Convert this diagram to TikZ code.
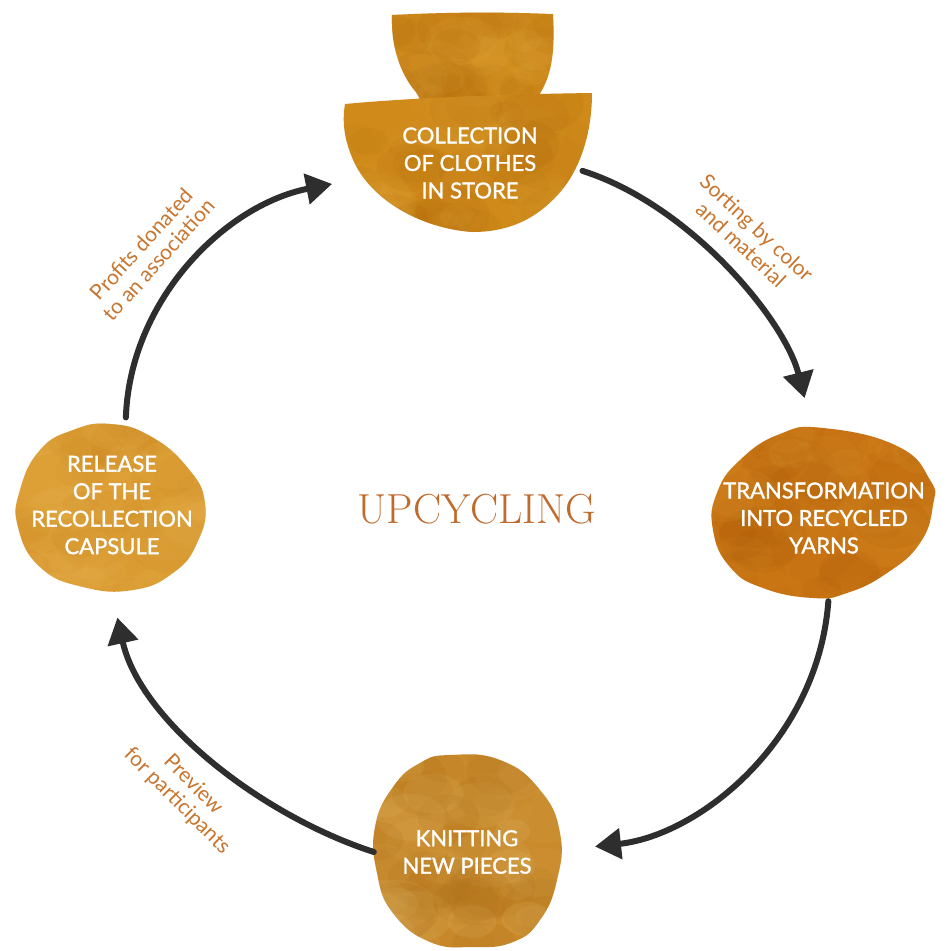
\documentclass[tikz,border=0pt]{standalone}
\usepackage{fontspec}
\setmainfont{Lato}
\newfontfamily\nodefont[FakeBold=1.3]{Lato}
\usetikzlibrary{arrows.meta,shapes.geometric}
\definecolor{arrowc}{HTML}{2E2E2E}
\definecolor{labelc}{HTML}{C8752E}
\definecolor{titlec}{HTML}{C06A2C}
\definecolor{topbase}{HTML}{CF8A1A}
\definecolor{topdark}{HTML}{B0680C}
\definecolor{toplight}{HTML}{E2AA40}
\definecolor{rbase}{HTML}{CA7514}
\definecolor{rdark}{HTML}{A8580A}
\definecolor{rlight}{HTML}{DA9A30}
\definecolor{lbase}{HTML}{DC9E34}
\definecolor{ldark}{HTML}{C8841E}
\definecolor{llight}{HTML}{EAB658}
\definecolor{bbase}{HTML}{C98A2C}
\definecolor{bdark}{HTML}{A66814}
\definecolor{blight}{HTML}{EBC77A}
\newcommand\blobspots[6]{%
  \foreach \i in {1,...,30}{%
    \pgfmathsetmacro\px{#1+rnd*(#2-#1)}%
    \pgfmathsetmacro\py{#3+rnd*(#4-#3)}%
    \pgfmathsetmacro\rr{15+rnd*30}%
    \pgfmathsetmacro\op{0.05+rnd*0.10}%
    \fill[#5,opacity=\op] (\px,\py) ellipse ({\rr} and {\rr*0.7});
    \pgfmathsetmacro\qx{#1+rnd*(#2-#1)}%
    \pgfmathsetmacro\qy{#3+rnd*(#4-#3)}%
    \pgfmathsetmacro\rs{10+rnd*25}%
    \pgfmathsetmacro\oq{0.05+rnd*0.10}%
    \fill[#6,opacity=\oq] (\qx,\qy) ellipse ({\rs*1.2} and {\rs*0.8});
  }}
\tikzset{
  stagenode/.style={ellipse, draw=none, text=white, align=center,
    font=\nodefont\fontsize{22}{27.5}\selectfont, inner sep=0pt},
  conn/.style={draw=arrowc, line width=6pt, line cap=round,
    -{Triangle[length=26pt,width=30pt]}},
  steplabel/.style={text=labelc, align=center,
    font=\fontsize{21}{23}\selectfont, inner sep=0pt},
}
\begin{document}
\begin{tikzpicture}[x=1pt,y=-1pt]
\useasboundingbox (0,0) rectangle (948,951);
\fill[white] (0,0) rectangle (948,951);
\pgfmathsetseed{7}
% top shape: cup + bowl
\begin{scope}
\clip (392,15) .. controls (450,12) and (500,12) .. (553,14)
  .. controls (555,50) and (552,72) .. (542,90)
  .. controls (536,100) and (534,106) .. (532,112)
  -- (425,112)
  .. controls (422,104) and (420,98) .. (416,92)
  .. controls (399,72) and (391,45) .. cycle;
\fill[topbase] (380,5) rectangle (565,115);
\blobspots{390}{555}{12}{110}{topdark}{toplight}
\end{scope}
\begin{scope}
\clip (345,104) .. controls (420,97) and (520,94) .. (592,93)
  .. controls (592,130) and (582,165) .. (562,190)
  .. controls (535,222) and (505,232) .. (472,232)
  .. controls (420,228) and (372,200) .. (354,162)
  .. controls (344,140) and (342,122) .. cycle;
\fill[topbase] (335,85) rectangle (600,240);
\blobspots{340}{595}{92}{234}{topdark}{toplight}
\end{scope}
% right blob
\begin{scope}
\clip plot[smooth cycle, tension=0.8] coordinates {(823,428) (897,446) (930,480) (933,505)
  (920,543) (887,573) (847,593) (813,598) (763,588) (730,567) (713,530) (717,493) (740,460) (780,434)};
\fill[rbase] (700,420) rectangle (940,605);
\blobspots{705}{935}{425}{600}{rdark}{rlight}
\end{scope}
% left blob
\begin{scope}
\clip plot[smooth cycle, tension=0.8] coordinates {(110,424) (150,436) (187,467) (205,503)
  (197,543) (173,573) (133,590) (83,587) (40,567) (18,527) (20,490) (40,450) (73,430)};
\fill[lbase] (10,415) rectangle (215,600);
\blobspots{15}{210}{420}{595}{ldark}{llight}
\end{scope}
% bottom blob
\begin{scope}
\clip plot[smooth cycle, tension=0.8] coordinates {(450,755) (500,760) (540,790) (560,833)
  (557,880) (540,920) (513,942) (473,947) (430,942) (393,913) (377,873) (375,827) (393,787) (420,763)};
\fill[bbase] (365,750) rectangle (570,951);
\blobspots{370}{565}{752}{948}{bdark}{blight}
\end{scope}
% nodes
\node[stagenode, minimum width=226pt, minimum height=140pt] (top) at (470,163)
  {COLLECTION\\OF CLOTHES\\IN STORE};
\node[stagenode, minimum width=226pt, minimum height=166pt] (right) at (824,518)
  {TRANSFORMATION\\INTO RECYCLED\\YARNS};
\node[stagenode, minimum width=186pt, minimum height=190pt] (bottom) at (467,852)
  {KNITTING\\NEW PIECES};
\node[stagenode, minimum width=188pt, minimum height=176pt] (left) at (112,505)
  {RELEASE\\OF THE\\RECOLLECTION\\CAPSULE};
\node[text=titlec, font=\fontfamily{lmr}\fontsize{42}{42}\selectfont, inner sep=0pt] (title) at (477,509) {UPCYCLING};
% connectors
\draw[conn, shorten >=28pt] (left.81) .. controls (130,300) and (225,205) .. (top.188);
\draw[conn, shorten >=38pt] (top.-4) .. controls (690,205) and (785,320) .. (right.97);
\draw[conn, shorten >=35pt] (right.-87) .. controls (818,740) and (700,835) .. (bottom.1);
\draw[conn, shorten >=25pt] (bottom.180) .. controls (260,815) and (140,720) .. (left.-90);
% labels
\node[steplabel, rotate=48] (lab1) at (150,252) {Profits donated\\to an association};
\node[steplabel, rotate=-43] (lab2) at (749,236) {Sorting by color\\and material};
\node[steplabel, rotate=-45] (lab3) at (185,793) {Preview\\for participants};
\end{tikzpicture}
\end{document}
